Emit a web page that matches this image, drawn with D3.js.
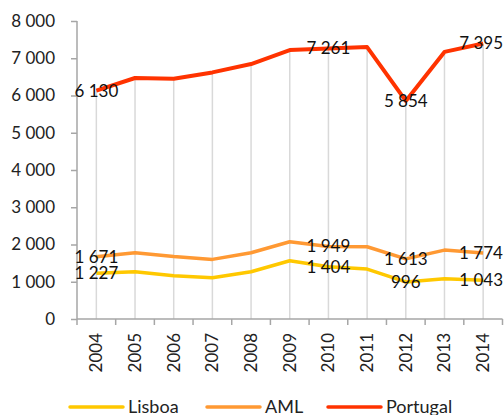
<!DOCTYPE html>
<html>
<head>
<meta charset="utf-8">
<script src="https://cdn.jsdelivr.net/npm/d3@7"></script>
<style>
  body { margin: 0; background: #fff; }
  text { font-family: Lato, "Open Sans", sans-serif; }
</style>
</head>
<body>
<div id="chart"></div>
<script>
const years = ['2004', '2005', '2006', '2007', '2008', '2009', '2010', '2011', '2012', '2013', '2014'];
const lisboa = [1227, 1270, 1160, 1110, 1270, 1565, 1404, 1340, 996, 1080, 1043];
const aml = [1671, 1780, 1675, 1600, 1780, 2075, 1949, 1940, 1613, 1850, 1774];
const portugal = [6130, 6470, 6450, 6620, 6845, 7220, 7261, 7300, 5854, 7170, 7395];
const yTicks = [0, 1000, 2000, 3000, 4000, 5000, 6000, 7000, 8000];
const labelIdx = [0, 6, 8, 10];

const series = [
  { name: 'Lisboa', values: lisboa, color: '#ffc800', w: 3.5 },
  { name: 'AML', values: aml, color: '#ff9933', w: 3.5 },
  { name: 'Portugal', values: portugal, color: '#ff3300', w: 4 }
];

const width = 504,
  height = 415;
const margin = { top: 21, right: 1.5, bottom: 96, left: 77 };
const innerW = width - margin.left - margin.right;
const innerH = height - margin.top - margin.bottom;

const pt = d3.formatLocale({ decimal: ',', thousands: ' ', grouping: [3], currency: ['', ''] });
const fmt = pt.format(',d');

const svg = d3
  .select('#chart')
  .append('svg')
  .attr('width', width)
  .attr('height', height);

const g = svg.append('g').attr('transform', `translate(${margin.left},${margin.top})`);

let x = d3.scaleBand().domain(years).range([0, innerW]);
let y = d3.scaleLinear().domain([0, 8000]).range([innerH, 0]);
const cx = (i) => x(years[i]) + x.bandwidth() / 2;

// drop lines from the top series
g.append('g')
  .selectAll('line')
  .data(portugal)
  .join('line')
  .attr('x1', (d, i) => cx(i))
  .attr('x2', (d, i) => cx(i))
  .attr('y1', (d) => y(d))
  .attr('y2', innerH)
  .attr('stroke', '#d9d9d9')
  .attr('stroke-width', 1.5);

// y axis
g.append('g')
  .call(d3.axisLeft(y).tickValues(yTicks).tickFormat(fmt).tickSize(6).tickPadding(16))
  .call((a) => a.select('.domain').attr('stroke', '#a6a6a6').attr('stroke-width', 1.5).attr('d', `M0,0V${innerH}`))
  .call((a) => a.selectAll('.tick line').attr('stroke', '#a6a6a6').attr('stroke-width', 1.5))
  .call((a) => a.selectAll('.tick text').attr('font-size', 17).attr('fill', '#222').attr('font-family', 'Lato, sans-serif'));

// x axis: ticks on band edges
const xa = g.append('g').attr('transform', `translate(0,${innerH})`);
xa.append('line')
  .attr('x1', 0)
  .attr('x2', innerW)
  .attr('stroke', '#a6a6a6')
  .attr('stroke-width', 1.5);
xa.selectAll('.edge')
  .data(d3.range(years.length + 1))
  .join('line')
  .attr('class', 'edge')
  .attr('x1', (i) => i * x.step())
  .attr('x2', (i) => i * x.step())
  .attr('y1', 0)
  .attr('y2', 6)
  .attr('stroke', '#a6a6a6')
  .attr('stroke-width', 1.5);
xa.selectAll('text')
  .data(years)
  .join('text')
  .attr('transform', (d, i) => `translate(${cx(i)},14) rotate(-90)`)
  .attr('text-anchor', 'end')
  .attr('dy', '0.35em')
  .attr('font-size', 17)
  .attr('fill', '#222')
  .text((d) => d);

// lines
const line = d3
  .line()
  .x((d, i) => cx(i))
  .y((d) => y(d));

series.forEach((s) => {
  g.append('path')
    .datum(s.values)
    .attr('fill', 'none')
    .attr('stroke', s.color)
    .attr('stroke-width', s.w)
    .attr('stroke-linejoin', 'round')
    .attr('d', line);
});

// data labels
series.forEach((s) => {
  labelIdx.forEach((i) => {
    const t = g.append('text')
      .attr('x', cx(i))
      .attr('y', y(s.values[i]))
      .attr('dy', '0.35em')
      .attr('text-anchor', 'middle')
      .attr('font-size', 17)
      .attr('fill', '#111')
      .text(fmt(s.values[i]));
    const bb = t.node().getBBox();
    const over = bb.x + bb.width - (innerW + margin.right - 1);
    if (over > 0) t.attr('x', cx(i) - over);
  });
});

// legend
const legendX = [70, 207, 328];
const legend = svg.append('g').attr('transform', 'translate(0,407)');
series.forEach((s, k) => {
  legend.append('line')
    .attr('x1', legendX[k])
    .attr('x2', legendX[k] + 53)
    .attr('stroke', s.color)
    .attr('stroke-width', 3.5)
    .attr('stroke-linecap', 'round');
  legend.append('text')
    .attr('x', legendX[k] + 58)
    .attr('y', 0)
    .attr('dy', '0.35em')
    .attr('font-size', 18)
    .attr('fill', '#222')
    .text(s.name);
});
</script>
</body>
</html>
